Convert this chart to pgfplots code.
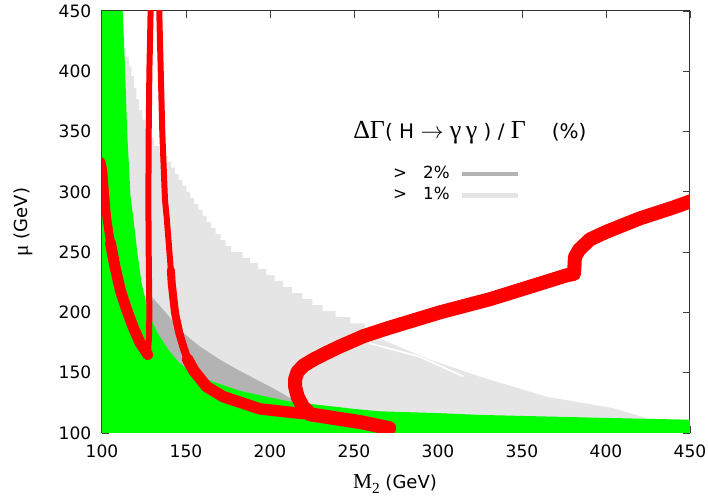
\documentclass[border=0pt]{standalone}
\usepackage{fontspec}
\setmainfont{DejaVu Sans}
\newfontfamily\serif{Liberation Serif}
\usepackage{pgfplots}
\pgfplotsset{compat=1.18}
\definecolor{gnugreen}{RGB}{0,255,0}
\definecolor{gnured}{RGB}{255,0,0}
\definecolor{darkg}{RGB}{179,179,179}
\definecolor{lightg}{RGB}{229,229,229}
\begin{document}
\begin{tikzpicture}
\begin{axis}[
  at={(0,0)}, anchor=south west,
  width=441pt, height=316.5pt, scale only axis,
  xmin=100, xmax=450, ymin=100, ymax=450,
  xtick={100,150,...,450}, ytick={100,150,...,450},
  tick align=inside, major tick length=5.25pt,
  tick style={black!75, line width=0.6pt},
  axis line style={black!80, line width=0.75pt},
  /pgf/number format/assume math mode=true,
  ticklabel style={font=\fontsize{12.8}{15}\selectfont},
  xticklabel style={yshift=-5pt},
  yticklabel style={xshift=-4.5pt},
]
% > 1% region
\addplot[fill=lightg, draw=none] coordinates {
(114,100) (114,412) (116,412) (116,404) (117.5,404) (117.5,396) (119,396) (119,386)
(120.5,386) (120.5,377) (122,377) (122,368) (124,368) (124,360) (126,360) (126,352)
(128,352) (128,345) (131,345) (131,338) (134,338) (134,333) (136,333) (136,330)
(139,330) (139,325) (141.2,325) (141.2,320) (143.4,320) (143.4,315) (145.6,315)
(145.6,310) (147.9,310) (147.9,305) (150.2,305) (150.2,300) (152.5,300) (152.5,295)
(154.9,295) (154.9,290) (157.4,290) (157.4,285) (159.9,285) (159.9,280) (162.3,280)
(162.3,275) (164.8,275) (164.8,270) (167.6,270) (167.6,265) (170.6,265) (170.6,260)
(173.6,260) (173.6,255) (176.8,255) (176.8,250) (183.7,250) (183.7,245) (188,245)
(188,241) (192.9,241) (192.9,236) (197.8,236) (197.8,231) (202.7,231) (202.7,226)
(207.6,226) (207.6,221) (213,221) (213,216) (219.2,216) (219.2,211) (225.2,211)
(225.2,206) (231.3,206) (231.3,201) (239,201) (239,196) (247.8,196) (247.8,191)
(256.5,191) (256.5,186) (262,186) (265.5,178) (295,161) (325,146.7) (364.7,130)
(404,120.7) (424,112.4) (432,108) (432,100)} -- cycle;
% > 2% region
\addplot[fill=darkg, draw=none] coordinates {
(127.5,100) (127.5,213) (129.6,213) (138.5,199) (146.4,185.4) (158.3,171.6)
(170,161) (182,151.5) (202,137) (212,129) (216,125) (216,100)} -- cycle;
% white streak
\addplot[white, line width=1.3pt] coordinates {(259,174.5) (289,163.3) (315,147)};
% green region
\addplot[fill=gnugreen, draw=none] coordinates {
(100,100) (100,450) (112.3,450) (113.7,404) (115,349) (117,296) (118.6,279)
(121,250) (123.6,224) (126,210) (128.6,196) (133,183) (139.5,169) (146,158)
(152,152) (165,143) (182,135) (200,129.5) (212,126) (250,120) (265,118)
(300,116.5) (325,115) (400,112.5) (450,111) (450,100)} -- cycle;
% red bands
\addplot[gnured, line width=6.5pt, line cap=round, line join=round] coordinates {
(99.5,325) (100.5,318) (101.5,300) (102.8,279) (105,258)};
\addplot[gnured, line width=8.25pt, line cap=round, line join=round] coordinates {
(105,258) (107.7,238) (111,218) (114.5,203) (118.5,188) (122.6,175) (125.5,169) (127.3,165)};
\addplot[gnured, line width=4.5pt, line cap=round, line join=round] coordinates {
(127.3,165) (128,180) (128.2,200) (127.8,250) (127.6,293) (127.8,349) (128.2,400) (128.6,426) (129,455)};
\addplot[gnured, line width=4.5pt, line cap=round, line join=round] coordinates {
(134,455) (134.5,426) (135.9,349) (137.5,293) (138.5,279) (141,235)};
\addplot[gnured, line width=6pt, line cap=round, line join=round] coordinates {
(141,235) (141.5,224) (143.5,199.3) (146,183) (148.4,171.6) (151,161)};
\addplot[gnured, line width=8.6pt, line cap=round, line join=round] coordinates {
(151,161) (154.4,152.2) (162.3,138.4) (172.2,130.1) (194,120) (210,117.5) (224,115.5)};
\addplot[gnured, line width=10.5pt, line cap=round, line join=round] coordinates {
(224,115.5) (240,112) (254,109) (271,104)};
\addplot[gnured, line width=10.5pt, line cap=round, line join=round] coordinates {
(224,115.5) (219.5,122) (216.5,130) (215,138) (215,145) (216.5,151) (220,156)
(226,161) (233,166) (242,172) (256,180.5) (271,187.3) (301,200) (331,211)
(361,224) (376.6,230.8) (381,232) (381.5,246) (384,252) (390.5,260.6)
(400.4,267) (420.2,278) (440,287) (455,294.5)};
% legend samples
\addplot[darkg, line width=3.3pt] coordinates {(314.1,314.9) (347.8,314.9)};
\addplot[lightg, line width=3.3pt] coordinates {(314.1,296.9) (347.8,296.9)};
\node[anchor=base west, inner sep=0, font=\fontsize{15}{17}\selectfont] at (axis cs:249.4,344)
 {{\serif\fontsize{19.5}{19}\selectfont ΔΓ}( H {\fontsize{16}{16}\selectfont$\rightarrow$} {\serif\fontsize{19.5}{19}\selectfont γ\,γ} ) / {\serif\fontsize{19.5}{19}\selectfont Γ}\hspace{1.3em}(\%)};
\node[anchor=base west, inner sep=0, font=\fontsize{12.5}{14}\selectfont] at (axis cs:273.2,311.2) {>};
\node[anchor=base east, inner sep=0, font=\fontsize{12.5}{14}\selectfont] at (axis cs:307.1,311.2) {2\%};
\node[anchor=base west, inner sep=0, font=\fontsize{12.5}{14}\selectfont] at (axis cs:273.2,293.8) {>};
\node[anchor=base east, inner sep=0, font=\fontsize{12.5}{14}\selectfont] at (axis cs:307.1,293.8) {1\%};
\end{axis}
\node[rotate=90, font=\fontsize{13.5}{15}\selectfont] at (-59pt,158.25pt) {{\serif\fontsize{16}{16}\selectfont μ} (GeV)};
\node[font=\fontsize{13.5}{15}\selectfont] at (219.75pt,-38.25pt) {{\serif\fontsize{16}{16}\selectfont M\raisebox{-0.45ex}{\fontsize{11.5}{11}\selectfont 2}} (GeV)};
\pgfresetboundingbox
\useasboundingbox (-76.5pt,-52.5pt) rectangle (454.5pt,324.75pt);
\end{tikzpicture}
\end{document}
